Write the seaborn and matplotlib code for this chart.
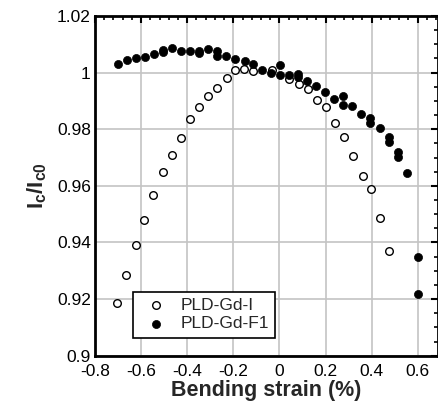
import matplotlib
matplotlib.use("Agg")
import matplotlib.pyplot as plt
import seaborn as sns
import pandas as pd
from matplotlib.ticker import MultipleLocator, AutoMinorLocator, FuncFormatter

# PLD-Gd-I (open circles)
strain_i = [-0.704, -0.665, -0.623, -0.587, -0.548, -0.507, -0.465, -0.429, -0.387, -0.348,
            -0.308, -0.269, -0.229, -0.193, -0.154, -0.113, -0.034, 0.043, 0.087, 0.124,
            0.162, 0.202, 0.241, 0.281, 0.319, 0.362, 0.398, 0.437, 0.474]
ic_i = [0.9187, 0.9285, 0.9391, 0.9481, 0.9568, 0.9648, 0.9708, 0.9770, 0.9835, 0.9879,
        0.9919, 0.9946, 0.9981, 1.0009, 1.0013, 1.0007, 1.0009, 0.9978, 0.9959, 0.9942,
        0.9902, 0.9879, 0.9821, 0.9772, 0.9706, 0.9636, 0.9588, 0.9488, 0.9369]

# PLD-Gd-F1 (filled circles)
strain_f = [-0.699, -0.660, -0.623, -0.585, -0.545, -0.507, -0.507, -0.465, -0.428, -0.387,
            -0.348, -0.348, -0.308, -0.271, -0.271, -0.230, -0.191, -0.151, -0.113, -0.076,
            -0.035, 0.002, 0.002, 0.040, 0.080, 0.080, 0.119, 0.158, 0.199, 0.238,
            0.277, 0.277, 0.316, 0.356, 0.395, 0.395, 0.437, 0.474, 0.474, 0.515,
            0.515, 0.553, 0.600, 0.600]
ic_f = [1.0029, 1.0045, 1.0052, 1.0055, 1.0065, 1.0080, 1.0072, 1.0087, 1.0075, 1.0075,
        1.0076, 1.0070, 1.0082, 1.0078, 1.0060, 1.0059, 1.0049, 1.0041, 1.0029, 1.0008,
        0.9998, 1.0027, 0.9992, 0.9993, 0.9996, 0.9986, 0.9971, 0.9953, 0.9931, 0.9907,
        0.9918, 0.9887, 0.9882, 0.9853, 0.9839, 0.9821, 0.9804, 0.9774, 0.9756, 0.9718,
        0.9701, 0.9645, 0.9349, 0.9218]

labels = ["PLD-Gd-I", "PLD-Gd-F1"]

sns.set_theme(style="white")
plt.rcParams["font.family"] = ["Liberation Sans", "DejaVu Sans"]
plt.rcParams["axes.unicode_minus"] = False
plt.rcParams["mathtext.fontset"] = "custom"
plt.rcParams["mathtext.bf"] = "Liberation Sans:bold"
plt.rcParams["mathtext.rm"] = "Liberation Sans"

df_i = pd.DataFrame({"strain": strain_i, "ic": ic_i})
df_f = pd.DataFrame({"strain": strain_f, "ic": ic_f})

fig = plt.figure(figsize=(4.38, 4.01), dpi=100)
ax = fig.add_axes([95/438, 1 - 355.7/401, 1 - 95/438, (355.7 - 16)/401])

sns.scatterplot(data=df_i, x="strain", y="ic", ax=ax, marker="o", s=30,
                facecolor="white", edgecolor="black", linewidth=1.0, label=labels[0], zorder=3)
sns.scatterplot(data=df_f, x="strain", y="ic", ax=ax, marker="o", s=34,
                color="black", edgecolor="black", linewidth=0.5, label=labels[1], zorder=4)

ax.set_xlim(-0.8, 0.688)
ax.set_ylim(0.9, 1.02)
ax.xaxis.set_major_locator(MultipleLocator(0.2))
ax.xaxis.set_minor_locator(AutoMinorLocator(5))
ax.yaxis.set_major_locator(MultipleLocator(0.02))
ax.yaxis.set_minor_locator(AutoMinorLocator(4))
fmt = FuncFormatter(lambda v, p: "{:g}".format(round(v, 4)))
ax.xaxis.set_major_formatter(fmt)
ax.yaxis.set_major_formatter(fmt)

ax.grid(True, which="major", color="#c4c4c4", linewidth=1.2, zorder=0)
ax.set_axisbelow(True)
for s in ax.spines.values():
    s.set_color("black")
    s.set_linewidth(2)

ax.tick_params(which="both", direction="in", top=True, right=True, colors="black",
               labelsize=12.5)
ax.tick_params(axis="y", pad=3)
ax.tick_params(axis="x", pad=6)
ax.tick_params(which="major", length=5, width=1.5)
ax.tick_params(which="minor", length=3, width=1.2)

ax.set_xlabel("Bending strain (%)", fontsize=15.5, fontweight="bold", labelpad=1)
ax.set_ylabel(r"$\mathbf{I_c/I_{c0}}$", fontsize=16, labelpad=6)

leg = ax.legend(loc="lower left", bbox_to_anchor=(0.085, 0.028), fontsize=12.5,
                frameon=True, fancybox=False, edgecolor="black", framealpha=1,
                handletextpad=0.4, borderpad=0.35, labelspacing=0.2, handlelength=2.0)
leg.get_frame().set_linewidth(1.2)

fig.savefig("out.png", dpi=100)
